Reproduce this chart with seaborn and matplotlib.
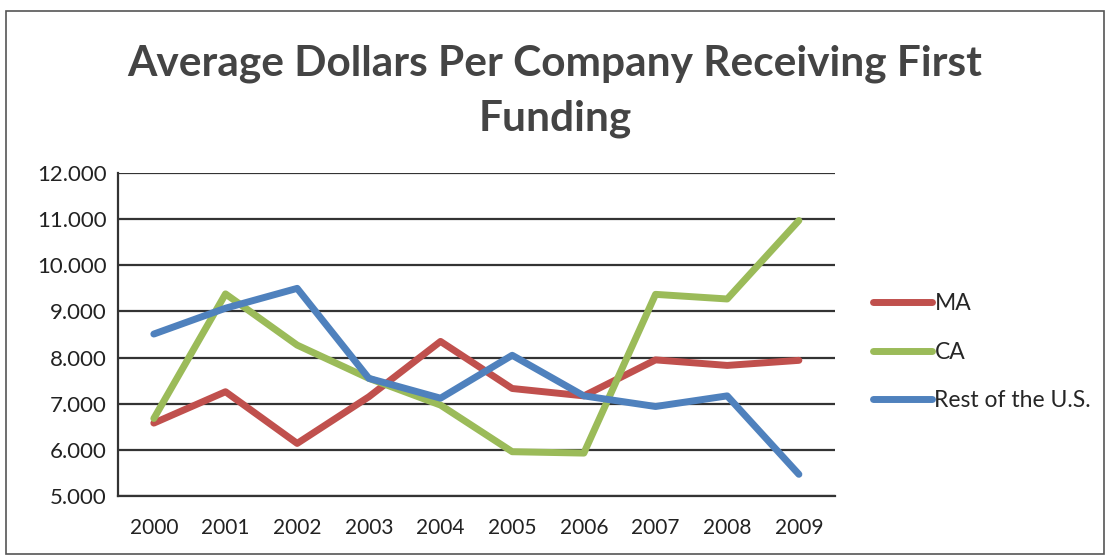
import matplotlib
matplotlib.use("Agg")
import matplotlib.pyplot as plt
import seaborn as sns
import pandas as pd
from matplotlib.ticker import FuncFormatter

years = ["2000", "2001", "2002", "2003", "2004", "2005", "2006", "2007", "2008", "2009"]
ma = [6.58, 7.26, 6.14, 7.15, 8.35, 7.33, 7.17, 7.95, 7.83, 7.94]
ca = [6.68, 9.38, 8.27, 7.55, 6.97, 5.96, 5.93, 9.37, 9.27, 10.97]
rest_us = [8.51, 9.07, 9.50, 7.55, 7.12, 8.05, 7.17, 6.94, 7.17, 5.47]
series_names = ["MA", "CA", "Rest of the U.S."]
colors = ["#C0504D", "#9BBB59", "#4F81BD"]

df = pd.DataFrame({
    "idx": list(range(len(years))) * 3,
    "value": ma + ca + rest_us,
    "series": [s for s in series_names for _ in years],
})

sns.set_theme(style="white")
plt.rcParams["font.family"] = ["Lato", "DejaVu Sans"]

fig = plt.figure(figsize=(11.1, 5.57), dpi=100)
ax = fig.add_axes([0.1063, 0.1095, 0.6457, 0.5799])

sns.lineplot(data=df, x="idx", y="value", hue="series", hue_order=series_names,
             palette=colors, linewidth=5, ax=ax, legend=True,
             solid_capstyle="round", solid_joinstyle="round")

ax.set_xlim(-0.5, len(years) - 0.5)
ax.set_ylim(5, 12)
ax.set_yticks([5, 6, 7, 8, 9, 10, 11, 12])
ax.yaxis.set_major_formatter(FuncFormatter(lambda v, p: f"{v:.3f}"))
ax.set_xticks(range(len(years)))
ax.set_xticklabels(years)
ax.set_xticks([i - 0.5 for i in range(len(years) + 1)], minor=True)
ax.tick_params(axis="x", which="major", length=0, pad=16, labelsize=15, colors="#222222")
ax.tick_params(axis="x", which="minor", length=6, width=1.5, color="#333333", direction="out")
ax.tick_params(axis="y", length=6, width=1.5, color="#333333", direction="out", pad=2,
               labelsize=16, labelcolor="#222222")
ax.set_xlabel("")
ax.set_ylabel("")
ax.grid(axis="y", color="#333333", linewidth=1.6)
ax.set_axisbelow(True)
for side in ["top", "right"]:
    ax.spines[side].set_visible(False)
for side in ["left", "bottom"]:
    ax.spines[side].set_color("#333333")
    ax.spines[side].set_linewidth(1.6)

leg = ax.legend(loc="center left", bbox_to_anchor=(1.024, 0.445), frameon=False,
                fontsize=16.5, handlelength=2.6, handletextpad=0.1, labelspacing=1.2)
for line in leg.get_lines():
    line.set_linewidth(5)
    line.set_solid_capstyle("round")

fig.text(0.5, 0.836, "Average Dollars Per Company Receiving First\nFunding",
         ha="center", va="center", fontsize=30.5, fontweight="bold", color="#444444",
         linespacing=1.55)

fig.patches.append(plt.Rectangle((0.005, 0.005), 0.99, 0.975, transform=fig.transFigure,
                                 fill=False, edgecolor="#555555", linewidth=1.2))

fig.savefig("out.png", dpi=100)
